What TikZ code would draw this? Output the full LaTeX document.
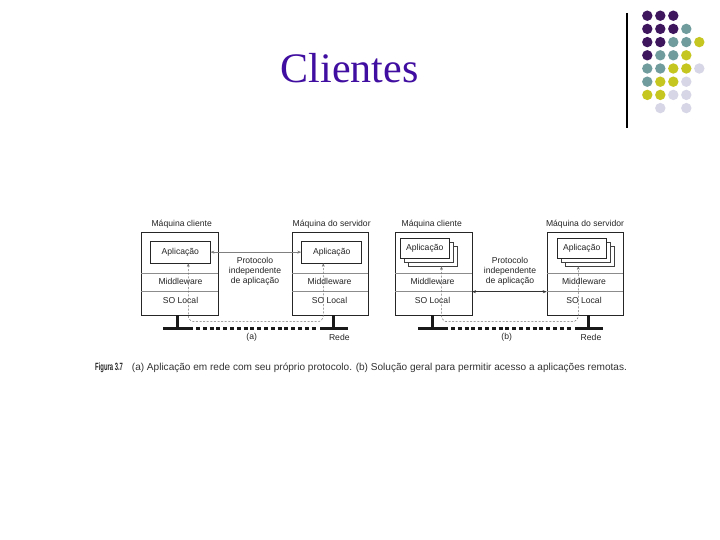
\documentclass[tikz,border=0pt]{standalone}
\usepackage{fontspec}
\setmainfont{Liberation Serif}
\newfontfamily\dsans{Liberation Sans}
\usetikzlibrary{arrows.meta}
\definecolor{dpurple}{RGB}{62,22,94}
\definecolor{dteal}{RGB}{112,156,158}
\definecolor{dyellow}{RGB}{198,198,32}
\definecolor{dlav}{RGB}{214,214,230}
\definecolor{titlecol}{RGB}{64,14,160}
\begin{document}
\begin{tikzpicture}[x=1pt,y=-1pt,
  lbl/.style={font=\dsans\fontsize{8.6}{10}\selectfont, text=black!85, inner sep=0pt},
  machine/.style={draw=black!85, line width=0.9pt, minimum width=77pt, minimum height=83.3pt, anchor=north west, inner sep=0pt},
  appbox/.style={draw=black!85, line width=0.8pt, fill=white, inner sep=0pt, font=\dsans\fontsize{8.6}{10}\selectfont, text=black!85},
  stackbox/.style={draw=black!75, line width=0.7pt, fill=white, inner sep=0pt, minimum width=49pt, minimum height=20pt},
  divider/.style={draw=black!45, line width=0.6pt},
  protoarrow/.style={draw=black!50, line width=0.6pt, {Stealth[length=4pt,width=3pt]}-{Stealth[length=4pt,width=3pt]}},
  protoarrowb/.style={draw=black!80, line width=0.7pt, {Stealth[length=4pt,width=3pt]}-{Stealth[length=4pt,width=3pt]}},
  dasharrow/.style={draw=black!55, line width=0.5pt, dash pattern=on 2pt off 1.6pt, rounded corners=6pt, {Stealth[length=3.5pt,width=2.8pt]}-{Stealth[length=3.5pt,width=2.8pt]}},
  netbar/.style={line width=3pt, draw=black!90},
  netdash/.style={line width=3pt, draw=black!90, dash pattern=on 4pt off 2.8pt},
]
\useasboundingbox[fill=white] (0,0) rectangle (720,540);

% ---- slide decoration ----
\draw[line width=2pt] (626.7,13) -- (626.7,128);
\foreach \c/\r/\col in {1/1/dpurple,2/1/dpurple,3/1/dpurple,
  1/2/dpurple,2/2/dpurple,3/2/dpurple,4/2/dteal,
  1/3/dpurple,2/3/dpurple,3/3/dteal,4/3/dteal,5/3/dyellow,
  1/4/dpurple,2/4/dteal,3/4/dteal,4/4/dyellow,
  1/5/dteal,2/5/dteal,3/5/dyellow,4/5/dyellow,5/5/dlav,
  1/6/dteal,2/6/dyellow,3/6/dyellow,4/6/dlav,
  1/7/dyellow,2/7/dyellow,3/7/dlav,4/7/dlav,
  2/8/dlav,4/8/dlav}
  \fill[\col] ({647.3+13*(\c-1)},{15.7+13.2*(\r-1)}) circle (5.2pt);

\node[font=\fontsize{42}{46}\selectfont, text=titlecol, anchor=base, inner sep=0pt] (title) at (349.5,82.7) {Clientes};

% ================= panel (a) =================
\node[lbl] (mc1) at (181.7,224) {Máquina cliente};
\node[lbl] (ms1) at (331.7,224) {Máquina do servidor};
\node[machine] (ma1) at (141,231.7) {};
\node[machine, minimum width=76pt] (ma2) at (292.3,231.7) {};
\draw[divider] (141,273.3) -- (218,273.3);
\draw[divider] (141,291.7) -- (218,291.7);
\draw[divider] (292.3,273.3) -- (368.3,273.3);
\draw[divider] (292.3,291.7) -- (368.3,291.7);
\node[appbox, minimum width=59.3pt, minimum height=22.3pt] (app1) at (180.35,252.15) {Aplicação};
\node[appbox, minimum width=60pt, minimum height=22.3pt] (app2) at (331.7,252.15) {Aplicação};
\node[lbl] (mw1) at (180.5,281.7) {Middleware};
\node[lbl] (so1) at (180.5,300.7) {SO Local};
\node[lbl] (mw2) at (329.5,281.7) {Middleware};
\node[lbl] (so2) at (329.5,300.7) {SO Local};
\node[lbl, align=center] (pr1) at (255,271.7) {Protocolo\\independente\\de aplicação};
\draw[protoarrow] (app1.east) -- (app2.west);
% network (a)
\draw[netbar] (177.5,315) -- (177.5,328);
\draw[netbar] (333.3,315) -- (333.3,328);
\draw[netbar] (163.3,328) -- (193.3,328);
\draw[netdash] (196,328) -- (318,328);
\draw[netbar] (320,328) -- (348.3,328);
\coordinate (da1) at (188.3,263.3);
\coordinate (da2) at (323.3,263.3);
\draw[dasharrow] (da1) -- (188.3,321.7) -- (323.3,321.7) -- (da2);
\node[lbl] (la) at (251.7,337) {(a)};
\node[lbl] (ra) at (339.3,337) {Rede};

% ================= panel (b) =================
\node[lbl] (mc2) at (431.7,224) {Máquina cliente};
\node[lbl] (ms2) at (585,224) {Máquina do servidor};
\node[machine] (mb1) at (395,231.7) {};
\node[machine, minimum width=76pt] (mb2) at (546.7,231.7) {};
\draw[divider] (395,273.3) -- (472,273.3);
\draw[divider] (395,291.7) -- (472,291.7);
\draw[divider] (546.7,273.3) -- (622.7,273.3);
\draw[divider] (546.7,291.7) -- (622.7,291.7);
\node[stackbox] (s1c) at (432.75,256.3) {};
\node[stackbox] (s1b) at (428.75,252.3) {};
\node[appbox, minimum width=49pt, minimum height=20pt] (app3) at (424.75,248.3) {Aplicação};
\node[stackbox] (s2c) at (589.7,256.3) {};
\node[stackbox] (s2b) at (585.7,252.3) {};
\node[appbox, minimum width=49pt, minimum height=20pt] (app4) at (581.7,248.3) {Aplicação};
\node[lbl] (mw3) at (432.5,281.7) {Middleware};
\node[lbl] (so3) at (432.5,300.7) {SO Local};
\node[lbl] (mw4) at (584,281.7) {Middleware};
\node[lbl] (so4) at (584,300.7) {SO Local};
\node[lbl, align=center] (pr2) at (510,271.7) {Protocolo\\independente\\de aplicação};
\coordinate (pb1) at (472,291.7);
\coordinate (pb2) at (546.7,291.7);
\draw[protoarrowb] (pb1) -- (pb2);
% network (b)
\draw[netbar] (432.5,315) -- (432.5,328);
\draw[netbar] (588.5,315) -- (588.5,328);
\draw[netbar] (418,328) -- (448,328);
\draw[netdash] (451,328) -- (573,328);
\draw[netbar] (575,328) -- (603,328);
\coordinate (db1) at (441.5,266.3);
\coordinate (db2) at (578.3,266.3);
\draw[dasharrow] (db1) -- (441.5,321.7) -- (578.3,321.7) -- (db2);
\node[lbl] (lb) at (506.7,337) {(b)};
\node[lbl] (rb) at (591,337) {Rede};

% ================= caption =================
\node[anchor=west, inner sep=0pt, font=\dsans\bfseries\fontsize{10.5}{12}\selectfont, text=black!85] (fig) at (95,367.5) {\scalebox{0.56}[1]{Figura 3.7}};
\node[anchor=west, inner sep=0pt, font=\dsans\fontsize{9}{11}\selectfont, text=black!80] (cap) at (131.7,367.5) {\resizebox{495pt}{!}{(a) Aplicação em rede com seu próprio protocolo. (b) Solução geral para permitir acesso a aplicações remotas.}};
\end{tikzpicture}
\end{document}
